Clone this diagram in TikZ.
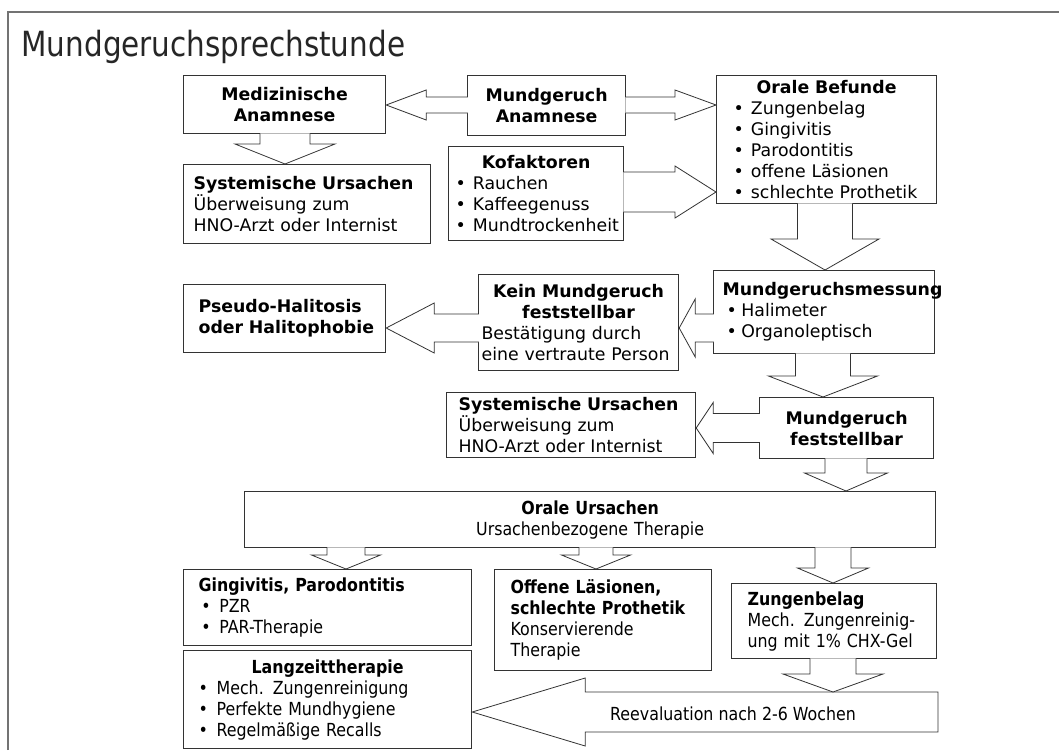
\documentclass[tikz,border=0pt]{standalone}
\usepackage{fontspec}
\setmainfont{DejaVu Sans}
\newfontfamily\condfont[FakeStretch=0.88]{DejaVu Sans}
\newfontfamily\titlefont[FakeStretch=0.85]{DejaVu Sans}
\usetikzlibrary{calc}

\tikzset{every picture/.style={line width=0.75pt}}
\tikzset{
  box/.style={draw=black!80, line width=0.9pt, fill=white, anchor=north west, inner ysep=0pt, font=\fontsize{13}{15.75}\selectfont},
  lowbox/.style={box, font=\condfont\fontsize{13.5}{15.75}\selectfont},
  blockarrow/.style={draw=black!80, line width=0.6pt, fill=white, line join=miter}
}
\newcommand{\bul}{\makebox[1em][l]{•}}
\newcommand{\hd}[1]{\makebox[\linewidth][c]{\bfseries #1}}
% block arrows: start node, tip, shaft half width, head half width, head length (px)
\newcommand{\arrdown}[5]{%
  \draw[blockarrow] let \p1=(#1), \p2=(#2) in
    (\x2-#3*0.75pt,\y1-0.6pt) -- (\x2-#3*0.75pt,\y2-#5*0.75pt) -- (\x2-#4*0.75pt,\y2-#5*0.75pt)
    -- (\x2,\y2) -- (\x2+#4*0.75pt,\y2-#5*0.75pt) -- (\x2+#3*0.75pt,\y2-#5*0.75pt) -- (\x2+#3*0.75pt,\y1-0.6pt);}
\newcommand{\arrleft}[5]{%
  \draw[blockarrow] let \p1=(#1), \p2=(#2) in
    (\x1+0.6pt,\y2+#3*0.75pt) -- (\x2+#5*0.75pt,\y2+#3*0.75pt) -- (\x2+#5*0.75pt,\y2+#4*0.75pt)
    -- (\x2,\y2) -- (\x2+#5*0.75pt,\y2-#4*0.75pt) -- (\x2+#5*0.75pt,\y2-#3*0.75pt) -- (\x1+0.6pt,\y2-#3*0.75pt);}
\newcommand{\arrright}[5]{%
  \draw[blockarrow] let \p1=(#1), \p2=(#2) in
    (\x1-0.6pt,\y2+#3*0.75pt) -- (\x2-#5*0.75pt,\y2+#3*0.75pt) -- (\x2-#5*0.75pt,\y2+#4*0.75pt)
    -- (\x2,\y2) -- (\x2-#5*0.75pt,\y2-#4*0.75pt) -- (\x2-#5*0.75pt,\y2-#3*0.75pt) -- (\x1-0.6pt,\y2-#3*0.75pt);}

\begin{document}
\begin{tikzpicture}[x=0.75pt,y=0.75pt,yscale=-1,xscale=1]
\useasboundingbox (0,0) rectangle (1059,750);

% slide frame and title
\draw[black!55, line width=1.2pt] (8,750) -- (8,12) -- (1059,12);
\node[anchor=base west, inner sep=0pt, font=\titlefont\fontsize{26}{30}\selectfont, text=black!85] (title) at (21,56) {Mundgeruchsprechstunde};

% Anamnese
\node[box, minimum width=151.5pt, minimum height=43.5pt, text width=145.5pt, inner xsep=3pt, align=center] (medanam) at (183,75) {\textbf{Medizinische}\\\textbf{Anamnese}};
\node[box, minimum width=118.5pt, minimum height=45pt, text width=112.5pt, inner xsep=3pt, align=center] (mundanam) at (467,75) {\textbf{Mundgeruch}\\\textbf{Anamnese}};
\node[box, minimum width=165pt, minimum height=96pt, text width=139.5pt, inner xsep=12.75pt, align=left] (befund) at (716,75) {\hd{Orale Befunde}\\\bul Zungenbelag\\\bul Gingivitis\\\bul Parodontitis\\\bul offene Läsionen\\\bul schlechte Prothetik};
\node[box, minimum width=185.25pt, minimum height=59.25pt, text width=170.25pt, inner xsep=7.5pt, align=left] (sys1) at (183,164) {\textbf{Systemische Ursachen}\\Überweisung zum\\HNO-Arzt oder Internist};
\node[box, minimum width=131.25pt, minimum height=70.5pt, text width=120.75pt, inner xsep=5.25pt, align=left] (kofak) at (448,146) {\hd{Kofaktoren}\\\bul Rauchen\\\bul Kaffeegenuss\\\bul Mundtrockenheit};

% Messung
\node[box, minimum width=165.75pt, minimum height=62.25pt, text width=152.25pt, inner xsep=6.75pt, align=left] (messung) at (713,270) {\textbf{Mundgeruchsmessung}\\\hspace{3pt}\makebox[0.85em][l]{•}Halimeter\\\hspace{3pt}\makebox[0.85em][l]{•}Organoleptisch};
\node[box, minimum width=150pt, minimum height=72pt, text width=145.5pt, inner xsep=2.25pt, align=left] (kein) at (478,274) {\hd{Kein Mundgeruch}\\\hd{feststellbar}\\Bestätigung durch\\eine vertraute Person};
\node[box, minimum width=151.5pt, minimum height=51pt, text width=129pt, inner xsep=11.25pt, align=left] (pseudo) at (183,284) {\mbox{\textbf{Pseudo-Halitosis}}\\\mbox{\textbf{oder Halitophobie}}};
\node[box, minimum width=130.5pt, minimum height=45.75pt, text width=124.5pt, inner xsep=3pt, align=center] (feststell) at (759,397) {\textbf{Mundgeruch}\\\textbf{feststellbar}};
\node[box, minimum width=186.75pt, minimum height=48.75pt, text width=168.75pt, inner xsep=9pt, align=left] (sys2) at (446,392) {\textbf{Systemische Ursachen}\\Überweisung zum\\HNO-Arzt oder Internist};

% Therapie
\node[lowbox, minimum width=518.25pt, minimum height=42pt, text width=512.25pt, inner xsep=3pt, align=center] (oralurs) at (244,491) {\textbf{Orale Ursachen}\\Ursachenbezogene Therapie};
\node[lowbox, minimum width=216pt, minimum height=57pt, text width=193.5pt, inner xsep=11.25pt, align=left] (gingi) at (183,569) {\textbf{Gingivitis, Parodontitis}\\\hspace{2pt}\bul PZR\\\hspace{2pt}\bul PAR-Therapie};
\node[lowbox, minimum width=216pt, minimum height=73.5pt, text width=193.5pt, inner xsep=11.25pt, align=left] (langzeit) at (183,650) {\hd{Langzeittherapie}\\\bul Mech. Zungenreinigung\\\bul Perfekte Mundhygiene\\\bul Regelmäßige Recalls};
\node[lowbox, minimum width=162.75pt, minimum height=75.75pt, text width=138.75pt, inner xsep=12pt, align=left] (offen) at (494,569) {\textbf{Offene Läsionen,}\\\textbf{schlechte Prothetik}\\Konservierende\\Therapie};
\node[lowbox, minimum width=153.75pt, minimum height=56.25pt, text width=129.75pt, inner xsep=12pt, align=left] (zungen) at (731,583) {\textbf{Zungenbelag}\\Mech. Zungenreinig-\\ung mit 1\% CHX-Gel};

% Pfeile
\arrleft{mundanam.west}{medanam.east |- 0,105}{8}{15}{40}
\arrright{mundanam.east}{befund.west |- 0,105}{8}{15}{41}
\arrdown{medanam.south}{285,0 |- sys1.north}{25}{50}{20}
\arrright{kofak.east}{befund.west |- 0,192}{20}{26}{41}
\arrdown{befund.south}{825,0 |- messung.north}{27.5}{54}{31}
\arrleft{messung.west}{kein.east |- 0,328}{14}{29}{16}
\arrleft{kein.west}{pseudo.east |- 0,328}{14}{25}{48}
\arrdown{messung.south}{823,0 |- feststell.north}{27.5}{54.5}{21}
\arrleft{feststell.west}{sys2.east |- 0,428}{14.5}{25.5}{17}
\arrdown{feststell.south}{846,0 |- oralurs.north}{21}{41.5}{18}
\arrdown{oralurs.south}{346,0 |- gingi.north}{19}{34.5}{14}
\arrdown{oralurs.south}{596,0 |- offen.north}{17}{34.5}{14}
\arrdown{oralurs.south}{833,0 |- zungen.north}{18}{35.5}{15}

% Reevaluation
\coordinate (reevend) at (938,712);
\coordinate (reevtop) at (833,692);
\draw[blockarrow] let \p1=(reevend), \p2=(langzeit.east |- reevend) in
  (\x1,\y2+15pt) -- (\x2+84.75pt,\y2+15pt) -- (\x2+84.75pt,\y2+25.5pt) -- (\x2,\y2)
  -- (\x2+84.75pt,\y2-25.5pt) -- (\x2+84.75pt,\y2-15pt) -- (\x1,\y2-15pt) -- cycle;
\node[inner sep=0pt, font=\condfont\fontsize{13.5}{15.75}\selectfont] (reeval) at (733,714) {Reevaluation nach 2-6 Wochen};
\arrdown{zungen.south}{reevtop}{23}{50}{18}

\end{tikzpicture}
\end{document}
